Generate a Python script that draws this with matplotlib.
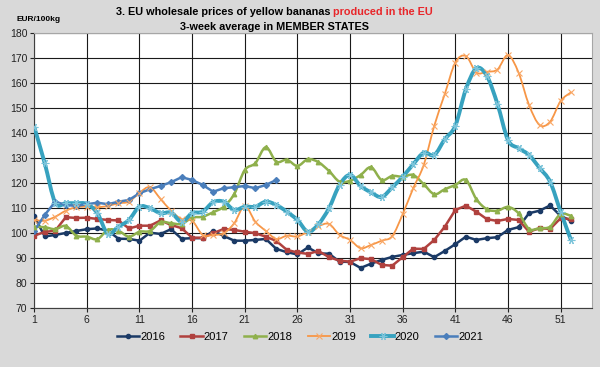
"""
EU wholesale prices of yellow bananas produced in the EU,
3-week average in member states, weekly, 2016-2021.
"""

import numpy as np
import matplotlib
matplotlib.use("Agg")
import matplotlib.pyplot as plt
from matplotlib.path import Path
from matplotlib.patches import PathPatch
from matplotlib.lines import Line2D

plt.rcParams["font.family"] = ["Liberation Sans", "DejaVu Sans"]

weeks = list(range(1, 53))

p2016 = [106.8, 98.6, 99.2, 100.0, 100.8, 101.5, 101.8, 100.9, 97.7, 97.6,
         96.9, 100.1, 99.6, 101.5, 97.7, 97.9, 97.9, 100.8, 98.8, 96.9,
         96.9, 97.2, 97.6, 93.6, 92.3, 91.4, 94.2, 91.8, 91.7, 88.5,
         88.4, 86.0, 87.7, 89.2, 90.4, 91.2, 91.9, 92.5, 90.3, 92.8,
         95.5, 98.5, 97.2, 97.9, 98.3, 101.2, 102.3, 107.9, 108.9, 111.0,
         106.8, 104.9]
p2017 = [98.9, 100.4, 100.9, 106.3, 106.0, 106.1, 105.6, 105.2, 105.0, 101.8,
         102.9, 102.9, 105.0, 103.2, 101.9, 98.1, 98.1, 99.9, 101.6, 101.2,
         100.5, 99.9, 98.5, 96.8, 93.2, 92.2, 91.6, 92.8, 90.3, 88.9,
         88.5, 89.9, 89.5, 87.2, 86.9, 90.3, 93.7, 93.6, 97.2, 102.5,
         109.2, 110.9, 108.5, 105.5, 104.8, 105.6, 105.2, 100.5, 101.9, 101.6,
         105.9, 105.5]
p2018 = [102.5, 102.3, 101.5, 102.8, 98.9, 98.5, 97.5, 101.2, 100.9, 98.5,
         100.5, 100.8, 104.3, 103.9, 103.6, 106.1, 106.5, 108.3, 110.5, 115.6,
         125.2, 127.9, 134.3, 128.5, 129.3, 126.8, 129.5, 128.3, 124.8, 120.5,
         120.9, 123.2, 126.3, 121.2, 122.8, 122.5, 123.2, 119.5, 115.5, 117.5,
         119.2, 121.2, 113.5, 109.5, 108.9, 110.4, 107.9, 101.6, 101.9, 102.5,
         107.6, 106.8]
p2019 = [105.2, 104.9, 106.5, 108.9, 110.3, 110.5, 110.3, 110.8, 111.9, 112.5,
         116.1, 118.3, 113.6, 108.9, 105.5, 104.9, 99.2, 99.2, 99.9, 103.9,
         110.8, 104.5, 100.8, 97.6, 98.9, 98.6, 100.5, 102.7, 103.6, 99.2,
         97.2, 93.9, 95.2, 96.9, 98.7, 107.5, 117.9, 127.2, 142.9, 155.6,
         168.2, 170.8, 164.2, 164.5, 165.4, 171.2, 164.2, 151.2, 143.2, 144.5,
         152.8, 156.3]
p2020 = [142.5, 127.9, 112.1, 111.9, 111.9, 111.6, 107.9, 99.6, 102.5, 105.2,
         110.5, 109.9, 107.9, 108.1, 104.5, 107.9, 108.5, 112.3, 112.5, 109.2,
         110.5, 110.5, 112.5, 111.2, 108.5, 105.2, 100.5, 103.5, 109.9, 119.2,
         123.2, 118.8, 116.2, 114.4, 118.2, 122.5, 127.5, 132.1, 131.2, 137.5,
         142.9, 157.5, 165.9, 162.8, 151.6, 137.2, 133.9, 131.2, 126.0, 120.5,
         108.5, 97.0]
p2021 = [100.8, 107.2, 112.5, 111.2, 110.8, 111.5, 112.1, 111.5, 112.5, 113.2,
         115.9, 117.5, 118.8, 120.3, 122.3, 121.2, 119.2, 116.5, 117.9, 118.3,
         118.8, 117.9, 119.2, 121.2]

years = ["2016", "2017", "2018", "2019", "2020", "2021"]
series = [p2016, p2017, p2018, p2019, p2020, p2021]

colors = ["#1B3A66", "#B0413E", "#8FB04C", "#F79646", "#37A2BF", "#4A7EBB"]
mcolors = ["#1B3A66", "#B0413E", "#8FB04C", "#F9A765", "#7CC4DA", "#4A7EBB"]
markers = ["o", "s", "^", "x", (6, 2, 90), "D"]
msizes = [3.0, 2.8, 3.2, 4.5, 5.5, 3.0]
mews = [1.0, 1.0, 1.0, 0.8, 0.8, 1.0]
widths = [1.8, 1.8, 1.8, 1.3, 2.8, 1.8]
smooth = [False, False, True, True, True, False]


def smooth_path(x, y):
    """Catmull-Rom style bezier through the points, like Excel smoothed lines."""
    x = np.asarray(x, float)
    y = np.asarray(y, float)
    verts = [(x[0], y[0])]
    codes = [Path.MOVETO]
    n = len(x)
    for i in range(n - 1):
        x0, y0 = (x[i - 1], y[i - 1]) if i > 0 else (x[i], y[i])
        x3, y3 = (x[i + 2], y[i + 2]) if i + 2 < n else (x[i + 1], y[i + 1])
        c1 = (x[i] + (x[i + 1] - x0) / 6, y[i] + (y[i + 1] - y0) / 6)
        c2 = (x[i + 1] - (x3 - x[i]) / 6, y[i + 1] - (y3 - y[i]) / 6)
        verts += [c1, c2, (x[i + 1], y[i + 1])]
        codes += [Path.CURVE4] * 3
    return Path(verts, codes)


fig = plt.figure(figsize=(6.0, 3.67), dpi=100, facecolor="#D9D9D9")
ax = fig.add_axes([0.057, 0.161, 0.93, 0.749])
ax.set_facecolor("white")

for yr, vals, c, mc, m, ms, mw, lw, sm in zip(years, series, colors, mcolors,
                                              markers, msizes, mews, widths, smooth):
    xs = weeks[:len(vals)]
    if sm:
        ax.add_patch(PathPatch(smooth_path(xs, vals), facecolor="none",
                               edgecolor=c, lw=lw, zorder=3))
        ax.plot(xs, vals, ls="none", marker=m, ms=ms, color=mc, mec=mc,
                mew=mw, zorder=4)
    else:
        ax.plot(xs, vals, color=c, lw=lw, marker=m, ms=ms, mec=mc, mfc=mc,
                mew=mw, zorder=3)

ax.set_xlim(1, 54)
ax.set_ylim(70, 180)
ax.set_xticks(range(1, 52, 5))
ax.set_yticks(range(70, 181, 10))
ax.grid(True, color="#1A1A1A", lw=0.8)
ax.set_axisbelow(True)
ax.tick_params(labelsize=7.5, length=3, width=0.8, colors="#222222", pad=2)

for s in ["top", "right"]:
    ax.spines[s].set_color("#A6A6A6")
for s in ["left", "bottom"]:
    ax.spines[s].set_color("#404040")

# Title, with the red part
fig.text(0.555, 0.966, "3. EU wholesale prices of yellow bananas ", ha="right",
         va="center", fontsize=7.8, fontweight="bold", color="black")
fig.text(0.555, 0.966, "produced in the EU", ha="left", va="center",
         fontsize=7.8, fontweight="bold", color="#E8262A")
fig.text(0.457, 0.926, "3-week average in MEMBER STATES", ha="center",
         va="center", fontsize=7.8, fontweight="bold")
fig.text(0.065, 0.948, "EUR/100kg", ha="center", va="center", fontsize=6.0,
         fontweight="bold")

handles = [Line2D([], [], color=c, lw=lw, marker=m, ms=ms, mec=mc, mfc=mc, mew=mw)
           for c, mc, m, ms, mw, lw in zip(colors, mcolors, markers, msizes, mews, widths)]
fig.legend(handles, years, loc="center", bbox_to_anchor=(0.5, 0.082), ncol=6,
           frameon=False, fontsize=8, handlelength=2.0, handletextpad=0.1,
           columnspacing=1.4)

fig.savefig("out.png", dpi=100, facecolor=fig.get_facecolor())
